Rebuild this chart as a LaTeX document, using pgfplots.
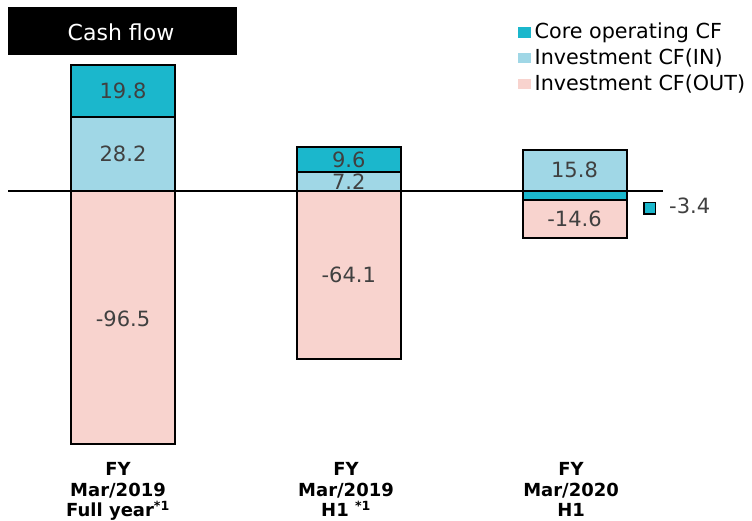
\documentclass[border=0pt]{standalone}
\usepackage{fontspec}
\setmainfont{DejaVu Sans}
\usepackage{pgfplots}
\pgfplotsset{compat=1.18}
\definecolor{ccore}{HTML}{1BB7CC}
\definecolor{cin}{HTML}{A0D7E6}
\definecolor{cout}{HTML}{F8D3CE}
\definecolor{vtext}{HTML}{404040}
\pgfplotsset{base/.style={scale only axis, width=752pt, height=520pt,
  at={(0pt,0pt)}, anchor=south west,
  xmin=-0.54485, xmax=2.78627, ymin=-125.333, ymax=72.762,
  hide axis, clip=false}}
\begin{document}
\begin{tikzpicture}
\path[use as bounding box] (0pt,0pt) rectangle (752pt,520pt);
% positive stack
\begin{axis}[base, ybar stacked, bar width=104pt]
\addplot[fill=cin, draw=black, line width=2pt] coordinates {(0,28.2) (1,7.2) (2,15.8)};
\addplot[fill=ccore, draw=black, line width=2pt] coordinates {(0,19.8) (1,9.6) (2,0)};
\end{axis}
% negative stack
\begin{axis}[base, ybar stacked, bar width=104pt]
\addplot[fill=ccore, draw=black, line width=2pt] coordinates {(0,0) (1,0) (2,-3.4)};
\addplot[fill=cout, draw=black, line width=2pt] coordinates {(0,-96.5) (1,-64.1) (2,-14.6)};
\end{axis}
% annotations, zero line, legend
\begin{axis}[base,
  legend cell align=left,
  legend style={at={(rel axis cs:0.68923,0.95385)}, anchor=north west,
    draw=none, fill=none, inner sep=0pt, outer sep=0pt, row sep=6.3pt,
    font=\fontsize{20.7}{24}\selectfont,
    nodes={inner sep=0pt, text height=15pt, text depth=4.5pt},
    /tikz/every odd column/.append style={column sep=4pt}},
  legend image code/.code={\fill[#1, draw=none] (0pt,-3.8pt) rectangle (12.4pt,6.4pt);}]
\addplot[black, line width=1.8pt, forget plot] coordinates {(-0.5094,0) (2.3907,0)};
\addplot[only marks, mark=square*, mark size=5.8pt, mark options={fill=ccore, draw=black, line width=1.5pt}, forget plot] coordinates {(2.333,-6.59)};
\addlegendimage{fill=ccore, draw=none}
\addlegendentry{Core operating CF}
\addlegendimage{fill=cin, draw=none}
\addlegendentry{Investment CF(IN)}
\addlegendimage{fill=cout, draw=none}
\addlegendentry{Investment CF(OUT)}
% title box
\fill[black] (rel axis cs:0.01064,0.98654) rectangle (rel axis cs:0.31516,0.89423);
\node[white, inner sep=0pt, font=\fontsize{22}{26}\selectfont] at (rel axis cs:0.1609,0.93731) {Cash flow};
% value labels
\begin{scope}[every node/.style={text=vtext, inner sep=0pt, font=\fontsize{21}{25}\selectfont}]
\node at (axis cs:0,38.1) {19.8};
\node at (axis cs:0,14.1) {28.2};
\node at (axis cs:0,-48.8) {-96.5};
\node at (axis cs:1,12.0) {9.6};
\node at (axis cs:1,3.6) {7.2};
\node at (axis cs:1,-32.05) {-64.1};
\node at (axis cs:2,7.9) {15.8};
\node at (axis cs:2,-10.7) {-14.6};
\node[anchor=west] at (axis cs:2.4186,-5.52) {-3.4};
\end{scope}
% category labels
\begin{scope}[every node/.style={anchor=base, inner sep=0pt, font=\fontsize{18}{21}\selectfont\bfseries}]
\node at (axis cs:-0.022,-108.3) {FY};
\node at (axis cs:-0.022,-116.5) {Mar/2019};
\node at (axis cs:-0.022,-124.0) {Full year\textsuperscript{*1}};
\node at (axis cs:0.988,-108.3) {FY};
\node at (axis cs:0.988,-116.5) {Mar/2019};
\node at (axis cs:0.988,-124.0) {H1 \textsuperscript{*1}};
\node at (axis cs:1.985,-108.3) {FY};
\node at (axis cs:1.985,-116.5) {Mar/2020};
\node at (axis cs:1.985,-124.0) {H1};
\end{scope}
\end{axis}
\end{tikzpicture}
\end{document}
